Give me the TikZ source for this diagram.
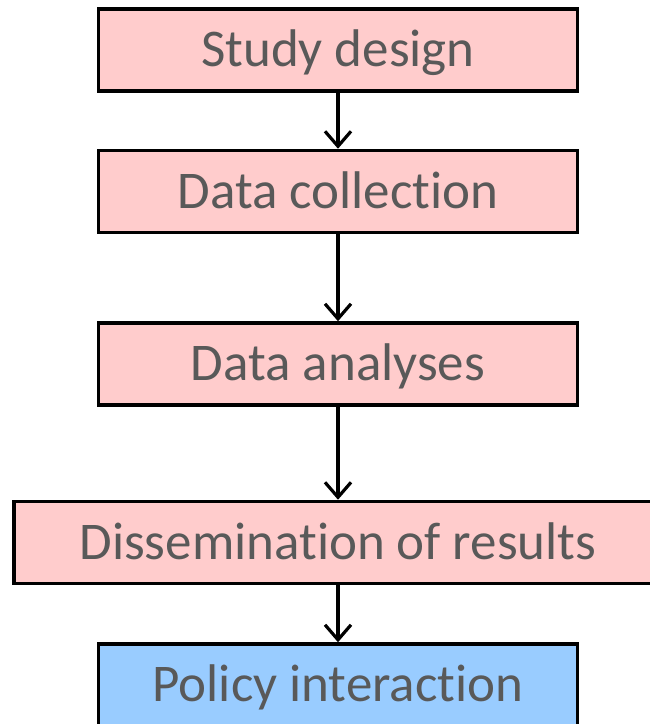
\documentclass[tikz,border=0pt]{standalone}
\usepackage{fontspec}
\setmainfont{Carlito}[RawFeature=-liga]
\usetikzlibrary{arrows.meta}
\definecolor{stagepink}{HTML}{FFCCCC}
\definecolor{policyblue}{HTML}{99CCFF}
\definecolor{labelgray}{HTML}{595959}
\tikzset{
  stagebox/.style={draw=black, line width=3.5pt, fill=stagepink,
    minimum width=479pt, minimum height=82pt, inner sep=0pt,
    text=labelgray, font=\fontsize{53}{53}\selectfont,
    text height=33.5pt, text depth=0pt},
  flowarrow/.style={draw=black, line width=3.2pt,
    -{Straight Barb[length=15pt,width=26pt,line width=3.2pt]}}
}
\begin{document}
\begin{tikzpicture}[x=1pt,y=1pt]
  \useasboundingbox (0,0) rectangle (650,724);
  \begin{scope}
    \clip (0,0) rectangle (650,724);
    \node[stagebox] (design) at (338,674) {Study design};
    \node[stagebox] (collect) at (338,532.5) {Data collection};
    \node[stagebox] (analyse) at (338,360) {Data analyses};
    \node[stagebox, minimum width=648pt] (dissem) at (338,181.5) {Dissemination of results};
    \node[stagebox, fill=policyblue] (policy) at (338,39) {Policy interaction};
  \end{scope}
  \draw[flowarrow] (design.south) -- (collect.north);
  \draw[flowarrow] (collect.south) -- (analyse.north);
  \draw[flowarrow] (analyse.south) -- (dissem.north);
  \draw[flowarrow] (dissem.south) -- (policy.north);
\end{tikzpicture}
\end{document}
